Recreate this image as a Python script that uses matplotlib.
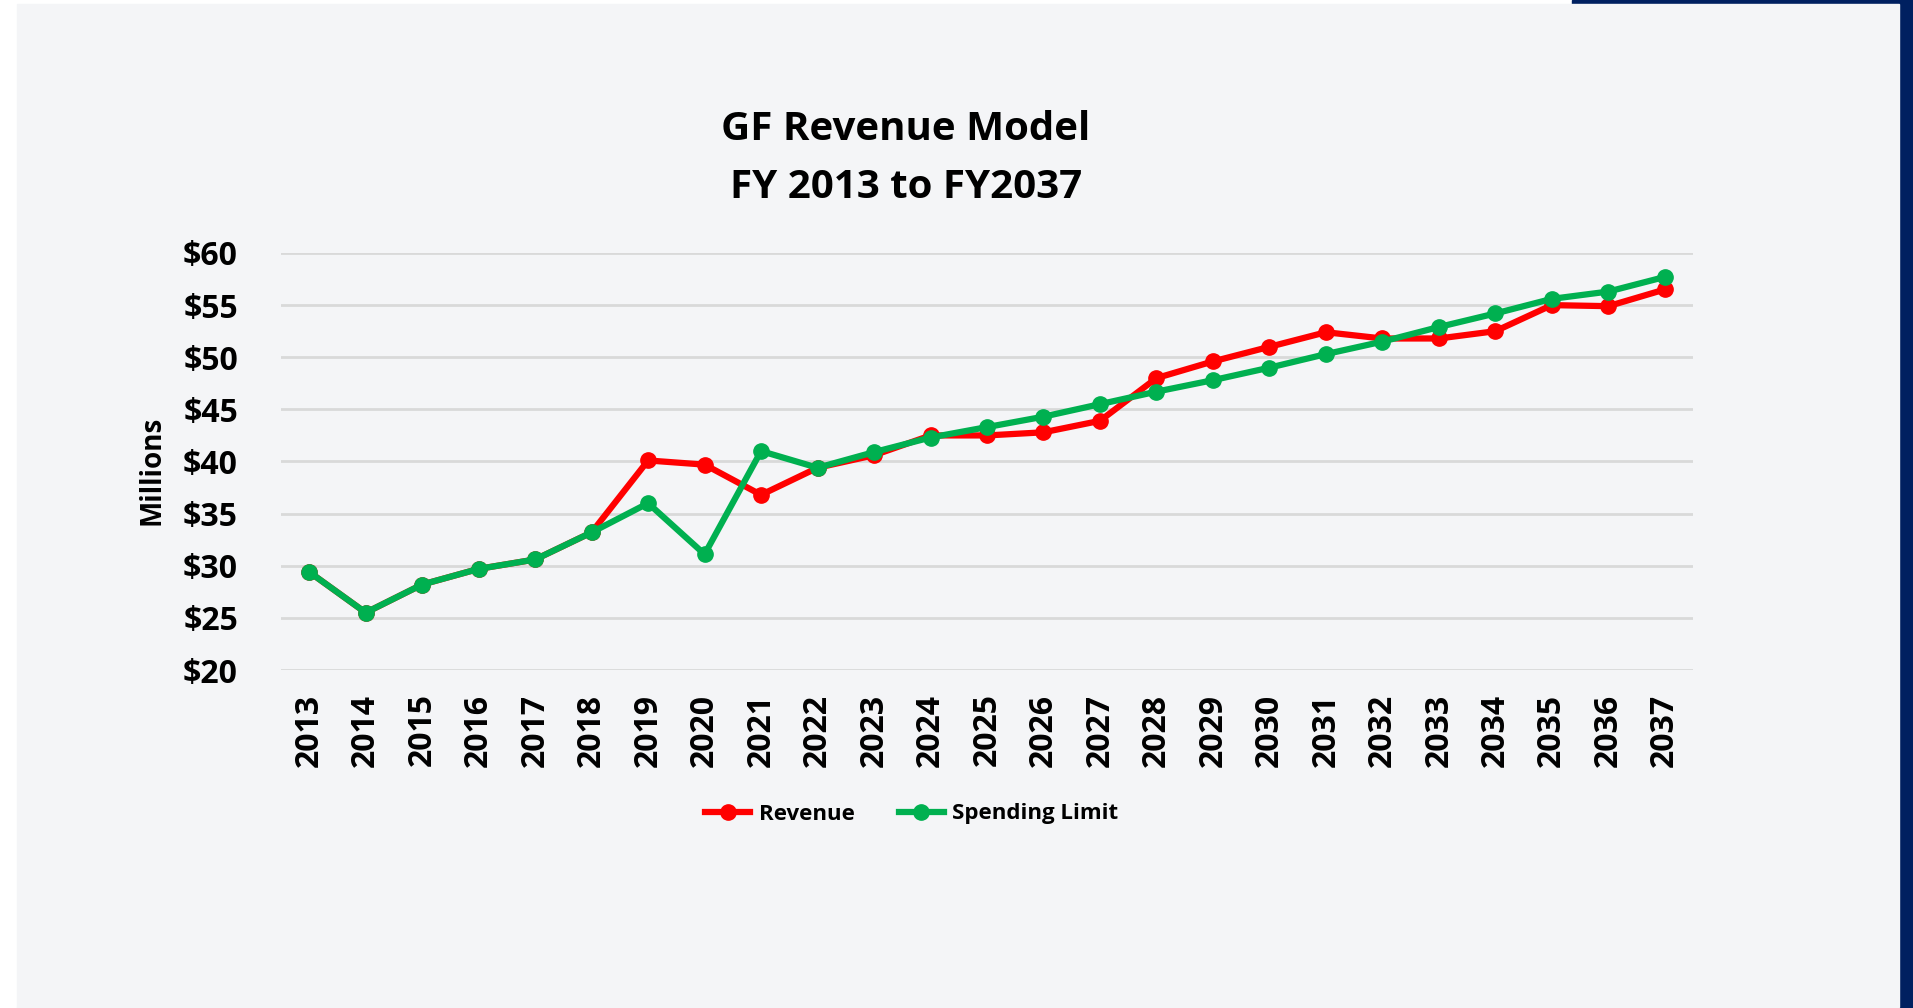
import matplotlib
matplotlib.use('Agg')
import matplotlib.pyplot as plt
from matplotlib.patches import Rectangle
from matplotlib.ticker import FuncFormatter

YEARS = list(range(2013, 2038))

REVENUE = [29.4, 25.5, 28.2, 29.7, 30.6, 33.2, 40.1, 39.7, 36.8, 39.4,
           40.6, 42.5, 42.5, 42.8, 43.9, 48.0, 49.6, 51.0, 52.4, 51.8,
           51.8, 52.5, 55.0, 54.9, 56.5]

SPENDING_LIMIT = [29.4, 25.5, 28.2, 29.7, 30.6, 33.2, 36.0, 31.1, 41.0, 39.4,
                  40.9, 42.3, 43.3, 44.3, 45.5, 46.7, 47.8, 49.0, 50.3, 51.5,
                  52.9, 54.2, 55.6, 56.3, 57.7]

Y_TICKS = [20, 25, 30, 35, 40, 45, 50, 55, 60]

FONT = ['Open Sans', 'DejaVu Sans']
PANEL = '#f4f5f7'
NAVY = '#002060'
RED = '#ff0000'
GREEN = '#00b050'

plt.rcParams['font.family'] = FONT
plt.rcParams['font.weight'] = 'bold'

W, H = 1913, 1008
fig = plt.figure(figsize=(W / 100, H / 100), dpi=100, facecolor='white')

# slide background: navy frame bits + light panel
fig.patches.append(Rectangle((1572 / W, 0), 1 - 1572 / W, 1, transform=fig.transFigure,
                             color=NAVY, zorder=-3))
fig.patches.append(Rectangle((17 / W, 1.5 / H), (1899 - 17) / W, (1004 - 1.5) / H,
                             transform=fig.transFigure, color=PANEL, zorder=-2))
fig.patches.append(Rectangle((17 / W, 0), (1572 - 17) / W, 2 / H,
                             transform=fig.transFigure, color=PANEL, zorder=-2))

ax = fig.add_axes([281 / W, 1 - 670 / H, (1693 - 281) / W, (670 - 253) / H])
ax.set_facecolor(PANEL)

x = list(range(len(YEARS)))
ax.plot(x, REVENUE, color=RED, linewidth=4.5, marker='o', markersize=11,
        label='Revenue', zorder=3, clip_on=False)
ax.plot(x, SPENDING_LIMIT, color=GREEN, linewidth=4.5, marker='o', markersize=11,
        label='Spending Limit', zorder=4, clip_on=False)

ax.set_xlim(-0.5, len(YEARS) - 0.5)
ax.set_ylim(20, 60)
ax.set_yticks(Y_TICKS)
ax.yaxis.set_major_formatter(FuncFormatter(lambda v, p: f'${v:.0f}'))
ax.set_xticks(x)
ax.set_xticklabels([str(y) for y in YEARS], rotation=90)
ax.tick_params(axis='both', length=0, labelsize=23, colors='black')
ax.tick_params(axis='y', pad=31)
ax.tick_params(axis='x', pad=17)
for lbl in ax.get_xticklabels() + ax.get_yticklabels():
    lbl.set_fontweight('bold')

ax.grid(axis='y', color='#d9d9d9', linewidth=2)
ax.set_axisbelow(True)
for s in ax.spines.values():
    s.set_visible(False)

fig.text(152 / W, 1 - 470 / H, 'Millions', rotation=90, ha='center', va='center',
         fontsize=20, fontweight='bold')

fig.text(906 / W, 1 - 130 / H, 'GF Revenue Model', ha='center', va='center',
         fontsize=29, fontweight='bold')
fig.text(906 / W, 1 - 188 / H, 'FY 2013 to FY2037', ha='center', va='center',
         fontsize=29, fontweight='bold')

leg = fig.legend(loc='center', bbox_to_anchor=(912 / W, 1 - 814 / H), ncol=2,
                 frameon=False, handlelength=2.0, handletextpad=0.4,
                 columnspacing=2.0, prop={'family': FONT, 'weight': 'bold', 'size': 16})
for line in leg.get_lines():
    line.set_linewidth(4.5)

fig.savefig('out.png', dpi=100, facecolor='white')
